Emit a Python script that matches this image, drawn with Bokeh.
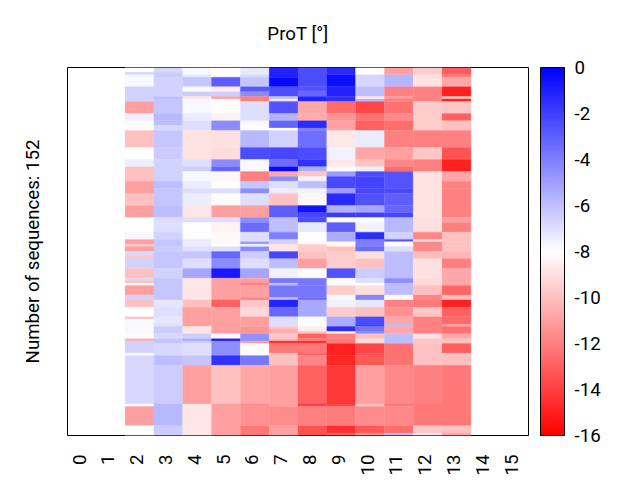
from math import pi
from bokeh.plotting import figure
from bokeh.models import (ColumnDataSource, LinearColorMapper, ColorBar, FixedTicker, Title, AllLabels)
from bokeh.embed import file_html
from bokeh.resources import INLINE

title_text = "ProT [°]"
ylabel_text = "Number of sequences: 152"
n_rows = 152
tick_labels = [str(i) for i in range(16)]
cbar_ticks = [0, -2, -4, -6, -8, -10, -12, -14, -16]

# (last row of the run, value), top row first
col2 = [(2,-8),(3,-6.6),(8,-7.8),(14,-6.6),(19,-11),(22,-7.5),(26,-8.1),(33,-10),(38,-8),(41,-7.5),(47,-10),(52,-11),(57,-10),(62,-11),(68,-8),(71,-7.8),(73,-11),(74,-10),(76,-11),(78,-6.8),(79,-10),(83,-6.6),(87,-10),(88,-6.8),(89,-10),(90,-8),(94,-11),(96,-6.6),(99,-10),(103,-8),(104,-9.8),(110,-7.8),(112,-8),(113,-10.5),(118,-6.6),(119,-8),(139,-6.8),(140,-8),(148,-11),(152,-8)]
col3 = [(2,-6.8),(4,-6.4),(12,-6.6),(13,-6),(19,-6.2),(22,-5.8),(24,-6),(26,-6.8),(33,-6.2),(38,-6.4),(47,-6.6),(50,-6),(57,-6.2),(62,-6),(68,-7),(71,-6.6),(74,-6.2),(76,-6.4),(83,-6.2),(87,-6.6),(96,-6.2),(99,-7.2),(103,-7),(106,-7.2),(107,-7),(110,-6.4),(112,-6.8),(114,-6.2),(119,-6.8),(123,-6),(139,-6.4),(148,-5.8),(152,-6.4)]
col4 = [(3,-7.8),(4,-7.2),(8,-6.2),(10,-7.9),(12,-6.4),(13,-8.8),(19,-7.8),(22,-7.4),(26,-7),(38,-8.9),(41,-7),(43,-6.5),(47,-7.8),(50,-7.4),(52,-7),(57,-7.4),(62,-8.8),(64,-7),(68,-8),(71,-7.9),(74,-7.4),(76,-7),(79,-6.2),(83,-7),(87,-5.2),(96,-8.8),(99,-10),(107,-11),(110,-8.8),(112,-6.4),(113,-5.4),(114,-6.4),(119,-7),(123,-6.2),(139,-11),(152,-8.8)]
col5 = [(4,-8.1),(8,-2.9),(10,-8.6),(12,-6.5),(13,-11),(19,-8.1),(22,-8.4),(26,-4.4),(33,-9),(38,-9.1),(41,-4.4),(43,-3.2),(47,-8.2),(50,-8.1),(52,-7),(57,-8.1),(62,-11),(64,-7),(68,-8.4),(72,-8.2),(73,-8.1),(74,-8),(76,-7),(79,-3.2),(83,-4.4),(87,-0.8),(96,-11),(99,-13),(110,-11),(112,-8.3),(113,-1),(119,-4.5),(123,-1.6),(139,-10),(152,-11)]
col6 = [(3,-7.3),(4,-6.8),(8,-6.2),(10,-2.8),(12,-4.4),(14,-12),(22,-7),(24,-7.8),(26,-8),(33,-5.8),(38,-2.4),(43,-7.8),(47,-12),(50,-6.2),(52,-4.4),(57,-7),(62,-11),(64,-4.4),(68,-3.4),(72,-7),(73,-4.8),(74,-7.6),(76,-4.4),(79,-6.4),(83,-7),(87,-5.2),(89,-11),(90,-12),(95,-11),(96,-12),(99,-9.8),(103,-9.2),(107,-11),(110,-11.3),(113,-4.6),(114,-11),(119,-8),(123,-3.8),(139,-10.8),(148,-11.5),(152,-12.2)]
col7 = [(4,-1.1),(8,-0.3),(12,-2.5),(13,-6),(14,-8.8),(19,-2.6),(22,-5.6),(25,-3.2),(26,-8),(33,-6.6),(38,-2.2),(41,-3.4),(43,-0.3),(45,-10.7),(47,-4.4),(50,-7),(52,-7.5),(57,-9.9),(62,-3),(68,-6),(71,-4),(73,-6.6),(76,-8.8),(79,-2.2),(83,-6),(87,-7.6),(89,-3.8),(90,-6),(95,-3.8),(96,-6),(99,-1.1),(103,-3.2),(107,-7),(108,-9.8),(110,-10.5),(112,-9.8),(113,-10.5),(114,-14.4),(118,-12.3),(123,-10),(140,-11),(148,-11.6),(152,-11)]
col8 = [(8,-2.4),(10,-2.6),(12,-3.2),(14,-1.1),(19,-10.7),(22,-10.6),(25,-1.4),(26,-4),(33,-3.5),(38,-2.4),(41,-1.6),(43,-5.4),(45,-9.8),(47,-7.6),(50,-6),(52,-7.6),(57,-8.3),(60,-0.6),(62,-2.2),(64,-2.4),(68,-7.3),(72,-8),(73,-8.2),(76,-9.6),(79,-10),(83,-11),(87,-8.1),(90,-3.7),(95,-3.7),(96,-3.4),(103,-5.3),(107,-7.9),(109,-8.5),(110,-10),(112,-13),(113,-12),(114,-14.4),(118,-12.2),(119,-13),(123,-11.8),(139,-13),(140,-14),(148,-12),(152,-13.5)]
col9 = [(3,-1.3),(8,-0.5),(12,-1.1),(14,-1.5),(19,-12.6),(22,-11.4),(25,-11),(26,-10.8),(33,-8.7),(38,-7.6),(41,-8.7),(43,-7.9),(45,-5),(50,-2.3),(52,-5),(57,-1.3),(60,-5.6),(62,-1.9),(64,-8),(68,-3),(72,-5.4),(74,-8.2),(76,-10),(83,-9.6),(87,-2.6),(90,-7.9),(94,-9.6),(96,-7.8),(99,-7.6),(103,-9.6),(106,-5.4),(107,-5.2),(109,-1.4),(110,-8.2),(112,-12),(114,-12.2),(119,-15),(123,-14.8),(139,-14.2),(140,-13.7),(148,-12.1),(151,-14.5),(152,-13)]
col10 = [(3,-8.1),(8,-6.7),(12,-6),(13,-8.7),(14,-5.8),(19,-13.8),(22,-12.4),(26,-13),(33,-7.4),(38,-10.8),(41,-9.9),(43,-7.5),(45,-2.4),(50,-2.1),(52,-2.2),(57,-2.6),(60,-5.2),(62,-2),(64,-8),(68,-7.6),(71,-1.4),(74,-4),(76,-3.4),(79,-9),(83,-10),(87,-6.4),(89,-7),(90,-8),(94,-9),(96,-4.2),(99,-7.3),(103,-10),(106,-2.4),(107,-1.8),(109,-3.6),(110,-4.2),(112,-10),(114,-9.1),(118,-13.8),(119,-13.6),(123,-13.2),(139,-11),(140,-10),(148,-11.6),(151,-13.2),(152,-11.6)]
col11 = [(3,-11),(8,-5.7),(12,-12),(13,-11.2),(14,-12),(19,-12.4),(22,-11.7),(26,-12.6),(33,-12),(38,-11),(41,-11.8),(43,-12.6),(50,-2.6),(52,-2.3),(57,-3),(60,-3.2),(62,-2.2),(68,-5.8),(71,-6.6),(72,-2.6),(74,-8.1),(76,-7),(87,-6),(89,-4.5),(94,-6),(96,-7.9),(99,-12),(103,-11.5),(106,-10.8),(107,-5.8),(110,-10.8),(114,-6),(123,-12.4),(139,-11.7),(140,-12.2),(148,-11.7),(151,-12.6),(152,-5.8)]
col12 = [(3,-9.6),(8,-8.9),(14,-12),(26,-9.6),(33,-12),(38,-9.8),(43,-12),(62,-8.9),(68,-9),(71,-11.8),(72,-9),(76,-11.7),(79,-10.1),(87,-9),(90,-9.2),(94,-10),(96,-11.8),(99,-12.2),(103,-9.8),(110,-12),(112,-8.9),(114,-9.8),(123,-9.9),(139,-12),(148,-12.2),(151,-9.8),(152,-8.7)]
col13 = [(3,-13.1),(4,-12.2),(8,-10.8),(12,-15),(13,-9.9),(14,-15),(19,-9.8),(22,-13),(26,-10),(33,-12),(38,-13.4),(43,-15),(47,-10.8),(50,-11.9),(62,-12),(64,-11),(68,-12),(72,-10),(76,-9.9),(79,-10.3),(83,-12),(90,-10.7),(94,-12.8),(96,-10.1),(99,-15),(103,-13),(106,-12.7),(107,-11),(110,-12.5),(112,-10.8),(114,-10),(118,-13),(123,-10),(139,-12.2),(148,-12.2),(151,-10),(152,-10.8)]
columns = {2: col2, 3: col3, 4: col4, 5: col5, 6: col6, 7: col7, 8: col8, 9: col9,
           10: col10, 11: col11, 12: col12, 13: col13}

left, right, top, bottom, vals = [], [], [], [], []
for c, runs in columns.items():
    start = 0
    for end, v in runs:
        left.append(c); right.append(c + 1)
        top.append(start); bottom.append(end)
        vals.append(v)
        start = end
src = ColumnDataSource(dict(left=left, right=right, top=top, bottom=bottom, v=vals))

palette = []
for i in range(256):
    t = i / 255
    if t < 0.5:
        a = int(round(255 * t * 2))
        palette.append("#%02x%02x%02x" % (255, a, a))
    else:
        a = int(round(255 * (1 - t) * 2))
        palette.append("#%02x%02x%02x" % (a, a, 255))
mapper = LinearColorMapper(palette=palette, low=-16, high=0)

FONT = "Roboto"
p = figure(frame_width=461, frame_height=368, x_range=(0, 16), y_range=(n_rows, 0),
           output_backend="svg", toolbar_location=None,
           min_border_left=67, min_border_top=67, min_border_bottom=40, min_border_right=10,
           background_fill_color="white", tools="")
p.grid.visible = False
p.outline_line_color = "black"
p.outline_line_width = 1
p.outline_line_alpha = 1

p.quad(left="left", right="right", top="top", bottom="bottom", source=src,
       fill_color={"field": "v", "transform": mapper},
       line_color={"field": "v", "transform": mapper}, line_width=0.3)

t = Title(text=title_text, align="center", text_font=FONT, text_font_size="18.7px",
          text_font_style="normal", text_color="black", standoff=42, vertical_align="top")
p.add_layout(t, "above")

xa = p.xaxis[0]
xa.ticker = FixedTicker(ticks=[i + 0.4 for i in range(16)])
xa.major_label_overrides = {i + 0.4: tick_labels[i] for i in range(16)}
xa.major_label_orientation = pi / 2
xa.major_label_text_font = FONT
xa.major_label_text_font_size = "18.7px"
xa.major_label_text_color = "black"
xa.major_label_standoff = 13
xa.major_tick_line_color = None
xa.minor_tick_line_color = None
xa.axis_line_color = None

ya = p.yaxis[0]
ya.ticker = FixedTicker(ticks=[])
ya.axis_label = ylabel_text
ya.axis_label_text_font = FONT
ya.axis_label_text_font_size = "18.7px"
ya.axis_label_text_font_style = "normal"
ya.axis_label_text_color = "black"
ya.axis_label_standoff = 24
ya.major_tick_line_color = None
ya.minor_tick_line_color = None
ya.axis_line_color = None

cb = ColorBar(color_mapper=mapper, ticker=FixedTicker(ticks=cbar_ticks), width=24, height=368,
              margin=0, padding=0, location=(12, 0), label_standoff=10,
              major_label_policy=AllLabels(),
              major_label_overrides={v: str(v) for v in cbar_ticks},
              major_label_text_font=FONT, major_label_text_font_size="18.7px",
              major_label_text_color="black",
              major_tick_line_color=None, minor_tick_line_color=None,
              bar_line_color="black", bar_line_width=1, border_line_color=None,
              background_fill_color=None)
p.add_layout(cb, "right")

open("out.html", "w").write(file_html(p, INLINE))
